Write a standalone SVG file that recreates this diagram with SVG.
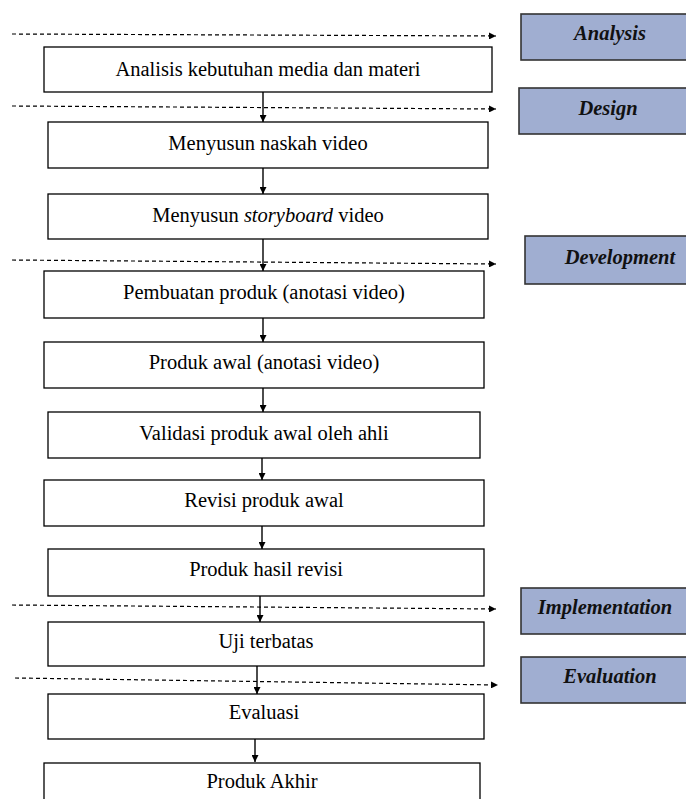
<svg xmlns="http://www.w3.org/2000/svg" width="686" height="799" viewBox="0 0 686 799">
<defs>
<marker id="ah" viewBox="0 0 10 10" refX="10" refY="5" markerWidth="7" markerHeight="7" markerUnits="userSpaceOnUse" orient="auto"><path d="M0,0 L10,5 L0,10 z" fill="#000"/></marker>
<marker id="ahd" viewBox="0 0 10 10" refX="10" refY="5" markerWidth="7" markerHeight="7" markerUnits="userSpaceOnUse" orient="auto"><path d="M0,0 L10,5 L0,10 z" fill="#000"/></marker>
</defs>
<style>
.box{fill:#fff;stroke:#000;stroke-width:1.3}
.ph{fill:#a0aed1;stroke:#333;stroke-width:1.6}
.t{font-family:"Liberation Serif","Times New Roman",serif;font-size:20.5px;text-anchor:middle;fill:#000}
.pt{font-family:"Liberation Serif","Times New Roman",serif;font-size:20.5px;font-weight:bold;font-style:italic;text-anchor:middle;fill:#111}
.a{stroke:#000;stroke-width:1.4;fill:none;marker-end:url(#ah)}
.d{stroke:#000;stroke-width:1.2;fill:none;stroke-dasharray:4 3;marker-end:url(#ahd)}
</style>
<rect width="686" height="799" fill="#fff"/>
<g id="connectors">
<line class="d" x1="12" y1="34" x2="496" y2="36"/>
<line class="d" x1="12" y1="106" x2="496" y2="109"/>
<line class="d" x1="12" y1="260" x2="496" y2="264"/>
<line class="d" x1="12" y1="605" x2="496" y2="609"/>
<line class="d" x1="15" y1="678" x2="498" y2="685"/>
<line class="a" x1="263" y1="92" x2="263" y2="122"/>
<line class="a" x1="263" y1="168" x2="263" y2="194"/>
<line class="a" x1="263" y1="239" x2="263" y2="271"/>
<line class="a" x1="263" y1="318" x2="263" y2="342"/>
<line class="a" x1="263" y1="388" x2="263" y2="412"/>
<line class="a" x1="262" y1="458" x2="262" y2="480"/>
<line class="a" x1="262" y1="526" x2="262" y2="549"/>
<line class="a" x1="260" y1="596" x2="260" y2="622"/>
<line class="a" x1="257" y1="666" x2="257" y2="694"/>
<line class="a" x1="255" y1="739" x2="255" y2="762"/>
</g>
<g id="phase-analysis"><rect class="ph" x="521" y="14" width="180" height="46"/><text class="pt" x="610" y="40">Analysis</text></g>
<g id="phase-design"><rect class="ph" x="519" y="88" width="180" height="46"/><text class="pt" x="608" y="115">Design</text></g>
<g id="phase-development"><rect class="ph" x="525" y="236" width="180" height="48"/><text class="pt" x="620" y="264">Development</text></g>
<g id="phase-implementation"><rect class="ph" x="521" y="588" width="180" height="46"/><text class="pt" x="605" y="614">Implementation</text></g>
<g id="phase-evaluation"><rect class="ph" x="521" y="657" width="180" height="46"/><text class="pt" x="610" y="683">Evaluation</text></g>
<g id="n1"><rect class="box" x="44" y="47" width="448" height="45"/><text class="t" x="268" y="76">Analisis kebutuhan media dan materi</text></g>
<g id="n2"><rect class="box" x="48" y="122" width="440" height="46"/><text class="t" x="268" y="150">Menyusun naskah video</text></g>
<g id="n3"><rect class="box" x="48" y="194" width="440" height="45"/><text class="t" x="268" y="222">Menyusun <tspan font-style="italic">storyboard</tspan> video</text></g>
<g id="n4"><rect class="box" x="44" y="271" width="440" height="47"/><text class="t" x="264" y="299">Pembuatan produk (anotasi video)</text></g>
<g id="n5"><rect class="box" x="44" y="342" width="440" height="46"/><text class="t" x="264" y="369">Produk awal (anotasi video)</text></g>
<g id="n6"><rect class="box" x="48" y="412" width="432" height="46"/><text class="t" x="264" y="440">Validasi produk awal oleh ahli</text></g>
<g id="n7"><rect class="box" x="44" y="480" width="440" height="46"/><text class="t" x="264" y="507">Revisi produk awal</text></g>
<g id="n8"><rect class="box" x="48" y="549" width="436" height="47"/><text class="t" x="266" y="576">Produk hasil revisi</text></g>
<g id="n9"><rect class="box" x="48" y="622" width="436" height="44"/><text class="t" x="266" y="648">Uji terbatas</text></g>
<g id="n10"><rect class="box" x="48" y="694" width="436" height="45"/><text class="t" x="264" y="719">Evaluasi</text></g>
<g id="n11"><rect class="box" x="44" y="763" width="436" height="45"/><text class="t" x="262" y="788">Produk Akhir</text></g>
</svg>
